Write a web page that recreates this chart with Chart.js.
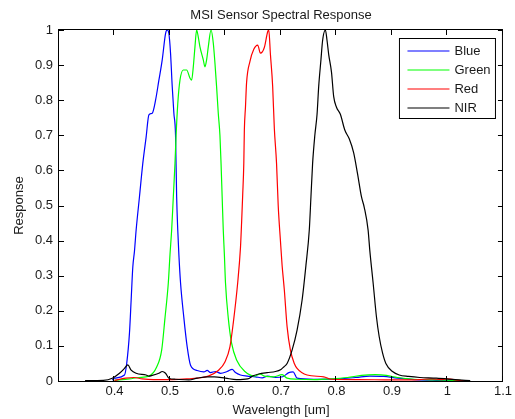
<!DOCTYPE html>
<html>
  <head>
    <title>MSI Sensor Spectral Response</title>
    <script src="https://cdn.jsdelivr.net/npm/chart.js@4.4.0/dist/chart.umd.min.js"></script>
    <style>
      html, body { margin: 0; padding: 0; background: #fff; }
    </style>
  </head>
  <body>
    <canvas id="canvas" width="515" height="419"></canvas>
    <script>
      // series (wavelength in um, relative response)
      const seriesNames = ['Blue', 'Green', 'Red', 'NIR'];
      const seriesColors = ['#0000ff', '#00ff00', '#ff0000', '#000000'];

      const blueWl = [0.396, 0.400, 0.418, 0.422, 0.427, 0.430, 0.433, 0.436, 0.439, 0.445,
        0.451, 0.457, 0.462, 0.468, 0.474, 0.480, 0.486, 0.492, 0.495, 0.498,
        0.501, 0.504, 0.507, 0.510, 0.512, 0.514, 0.516, 0.519, 0.525, 0.531,
        0.537, 0.549, 0.561, 0.567, 0.573, 0.582, 0.591, 0.603, 0.612, 0.618,
        0.627, 0.639, 0.654, 0.666, 0.676, 0.690, 0.703, 0.714, 0.722, 0.729,
        0.759, 0.800, 0.835, 0.860, 0.885, 0.910, 0.940, 0.980, 1.020];
      const blueResp = [0.003, 0.008, 0.017, 0.05, 0.137, 0.23, 0.325, 0.37, 0.43, 0.525,
        0.62, 0.695, 0.758, 0.763, 0.80, 0.857, 0.915, 0.99, 1.0, 0.99,
        0.934, 0.84, 0.763, 0.70, 0.525, 0.43, 0.36, 0.28, 0.18, 0.097,
        0.045, 0.03, 0.026, 0.03, 0.024, 0.027, 0.022, 0.027, 0.033, 0.024,
        0.017, 0.014, 0.012, 0.009, 0.014, 0.01, 0.012, 0.024, 0.026, 0.008,
        0.005, 0.006, 0.01, 0.014, 0.013, 0.008, 0.004, 0.002, 0.001];

      const greenWl = [0.400, 0.427, 0.444, 0.462, 0.476, 0.485, 0.491, 0.497, 0.500, 0.503,
        0.506, 0.509, 0.511, 0.514, 0.518, 0.524, 0.530, 0.536, 0.539, 0.542,
        0.545, 0.548, 0.551, 0.554, 0.560, 0.563, 0.566, 0.569, 0.574, 0.578,
        0.581, 0.584, 0.587, 0.590, 0.592, 0.594, 0.596, 0.598, 0.600, 0.605,
        0.611, 0.620, 0.635, 0.653, 0.662, 0.670, 0.687, 0.702, 0.711, 0.730,
        0.760, 0.790, 0.820, 0.845, 0.870, 0.890, 0.910, 0.940, 0.980, 1.020, 1.040];
      const greenResp = [0.002, 0.006, 0.01, 0.014, 0.04, 0.088, 0.18, 0.28, 0.36, 0.43,
        0.525, 0.62, 0.70, 0.79, 0.857, 0.886, 0.886, 0.863, 0.857, 0.895,
        0.952, 1.0, 0.98, 0.952, 0.915, 0.895, 0.915, 0.952, 1.0, 0.963,
        0.906, 0.838, 0.763, 0.70, 0.62, 0.525, 0.43, 0.36, 0.28, 0.18,
        0.108, 0.06, 0.027, 0.014, 0.02, 0.014, 0.012, 0.018, 0.008, 0.005,
        0.004, 0.006, 0.01, 0.016, 0.018, 0.016, 0.01, 0.005, 0.003, 0.002, 0.0];

      const redWl = [0.400, 0.420, 0.435, 0.450, 0.470, 0.500, 0.530, 0.550, 0.569, 0.587,
        0.599, 0.608, 0.614, 0.622, 0.627, 0.629, 0.631, 0.633, 0.634, 0.636,
        0.638, 0.644, 0.651, 0.658, 0.663, 0.670, 0.676, 0.678, 0.681, 0.685,
        0.688, 0.692, 0.695, 0.699, 0.702, 0.706, 0.711, 0.717, 0.724, 0.729,
        0.747, 0.777, 0.791, 0.840, 0.900, 0.950, 0.970, 0.990, 1.000, 1.020, 1.040];
      const redResp = [0.002, 0.008, 0.01, 0.006, 0.004, 0.004, 0.006, 0.008, 0.014, 0.03,
        0.054, 0.097, 0.165, 0.28, 0.38, 0.45, 0.53, 0.62, 0.715, 0.78,
        0.85, 0.91, 0.945, 0.957, 0.934, 0.95, 0.995, 1.0, 0.93, 0.84,
        0.72, 0.62, 0.50, 0.40, 0.33, 0.26, 0.155, 0.088, 0.05, 0.036,
        0.017, 0.012, 0.005, 0.004, 0.003, 0.004, 0.006, 0.004, 0.006, 0.002, 0.001];

      const nirWl = [0.347, 0.380, 0.396, 0.409, 0.418, 0.424, 0.430, 0.439, 0.457, 0.462,
        0.468, 0.480, 0.486, 0.492, 0.498, 0.510, 0.534, 0.549, 0.567, 0.580,
        0.600, 0.620, 0.640, 0.650, 0.660, 0.675, 0.690, 0.700, 0.705, 0.711,
        0.720, 0.729, 0.738, 0.745, 0.751, 0.754, 0.757, 0.761, 0.765, 0.768,
        0.772, 0.775, 0.780, 0.783, 0.786, 0.791, 0.795, 0.800, 0.807, 0.815,
        0.823, 0.831, 0.838, 0.845, 0.850, 0.857, 0.860, 0.866, 0.872, 0.877,
        0.883, 0.889, 0.901, 0.913, 0.930, 0.950, 0.980, 1.014, 1.041];
      const nirResp = [0.001, 0.002, 0.008, 0.022, 0.036, 0.046, 0.031, 0.022, 0.017, 0.014,
        0.016, 0.022, 0.027, 0.022, 0.008, 0.005, 0.003, 0.008, 0.012, 0.012,
        0.008, 0.004, 0.006, 0.015, 0.02, 0.024, 0.027, 0.033, 0.04, 0.05,
        0.088, 0.145, 0.23, 0.33, 0.43, 0.525, 0.62, 0.70, 0.76, 0.84,
        0.915, 0.97, 1.0, 0.97, 0.93, 0.88, 0.81, 0.78, 0.76, 0.715,
        0.69, 0.65, 0.59, 0.525, 0.495, 0.43, 0.373, 0.28, 0.183, 0.126,
        0.08, 0.05, 0.027, 0.017, 0.013, 0.01, 0.008, 0.004, 0.001];

      const xTicks = [0.4, 0.5, 0.6, 0.7, 0.8, 0.9, 1, 1.1];
      const yTicks = [0, 0.1, 0.2, 0.3, 0.4, 0.5, 0.6, 0.7, 0.8, 0.9, 1];

      const seriesWl = [blueWl, greenWl, redWl, nirWl];
      const seriesResp = [blueResp, greenResp, redResp, nirResp];

      const fontFamily = "'Liberation Sans', Arial, Helvetica, sans-serif";
      Chart.defaults.font.family = fontFamily;
      Chart.defaults.font.size = 13;
      Chart.defaults.color = '#1a1a1a';

      const fmt = (v) => String(+Number(v).toFixed(2));

      // matlab style box with inward ticks on all four sides, plus boxed legend
      const matlabFrame = {
        id: 'matlabFrame',
        afterDatasetsDraw(chart) {
          const { ctx, chartArea: a, scales: { x, y } } = chart;
          const tl = 5;
          ctx.save();
          ctx.strokeStyle = '#000';
          ctx.lineWidth = 1;
          ctx.strokeRect(a.left - 0.5, a.top - 0.5, a.right - a.left, a.bottom - a.top + 1);
          ctx.beginPath();
          xTicks.forEach((v) => {
            const px = Math.round(x.getPixelForValue(v)) - 0.5;
            ctx.moveTo(px, a.bottom);
            ctx.lineTo(px, a.bottom - tl);
            ctx.moveTo(px, a.top);
            ctx.lineTo(px, a.top + tl);
          });
          yTicks.forEach((v) => {
            const py = Math.round(y.getPixelForValue(v)) + 0.5;
            ctx.moveTo(a.left, py);
            ctx.lineTo(a.left + tl, py);
            ctx.moveTo(a.right, py);
            ctx.lineTo(a.right - tl, py);
          });
          ctx.stroke();

          // legend
          const w = 96, h = 80;
          const lx = a.right - 104 + 0.5, ly = a.top + 8 + 0.5;
          ctx.fillStyle = '#fff';
          ctx.fillRect(lx, ly, w, h);
          ctx.strokeStyle = '#000';
          ctx.strokeRect(lx, ly, w, h);
          ctx.font = '13px ' + fontFamily;
          ctx.textBaseline = 'middle';
          seriesNames.forEach((name, i) => {
            const ry = Math.round(ly + 12 + i * 19);
            ctx.beginPath();
            ctx.strokeStyle = seriesColors[i];
            ctx.lineWidth = 1.2;
            ctx.moveTo(lx + 8, ry);
            ctx.lineTo(lx + 50, ry);
            ctx.stroke();
            ctx.fillStyle = '#1a1a1a';
            ctx.fillText(name, lx + 55, ry);
          });
          ctx.restore();
        },
      };

      const datasets = seriesNames.map((name, i) => ({
        label: name,
        data: seriesWl[i].map((wl, k) => ({ x: wl, y: seriesResp[i][k] })),
        borderColor: seriesColors[i],
        backgroundColor: seriesColors[i],
        borderWidth: 1.2,
        pointRadius: 0,
        fill: false,
        cubicInterpolationMode: 'monotone',
        order: seriesNames.length - i, // later series drawn on top, like matlab
      }));

      const ctx = document.getElementById('canvas').getContext('2d');
      window.myChart = new Chart(ctx, {
        type: 'line',
        data: { datasets: datasets },
        options: {
          responsive: false,
          animation: false,
          layout: { padding: { top: 0, right: 7, bottom: 0, left: 0 } },
          plugins: {
            legend: { display: false },
            tooltip: { enabled: false },
            title: {
              display: true,
              text: 'MSI Sensor Spectral Response',
              fullSize: false,
              color: '#1a1a1a',
              font: { size: 13, weight: 'normal', lineHeight: '16px' },
              padding: { top: 7, bottom: 7 },
            },
          },
          scales: {
            x: {
              type: 'linear',
              min: 0.3,
              max: 1.1,
              afterBuildTicks: (scale) => {
                scale.ticks = xTicks.map((v) => ({ value: v }));
              },
              afterFit: (scale) => {
                scale.height = 38;
              },
              ticks: { callback: fmt, padding: 3, maxRotation: 0, autoSkip: false },
              grid: { display: false, drawTicks: false },
              border: { display: false },
              title: {
                display: true,
                text: 'Wavelength [um]',
                font: { size: 13 },
                padding: { top: 0, bottom: 1 },
              },
            },
            y: {
              min: 0,
              max: 1,
              afterBuildTicks: (scale) => {
                scale.ticks = yTicks.map((v) => ({ value: v }));
              },
              afterFit: (scale) => {
                scale.width = 59;
              },
              ticks: { callback: fmt, padding: 6, autoSkip: false },
              grid: { display: false, drawTicks: false },
              border: { display: false },
              title: {
                display: true,
                text: 'Response',
                font: { size: 13 },
                padding: { top: 12, bottom: 0 },
              },
            },
          },
        },
        plugins: [matlabFrame],
      });
    </script>
  </body>
</html>
